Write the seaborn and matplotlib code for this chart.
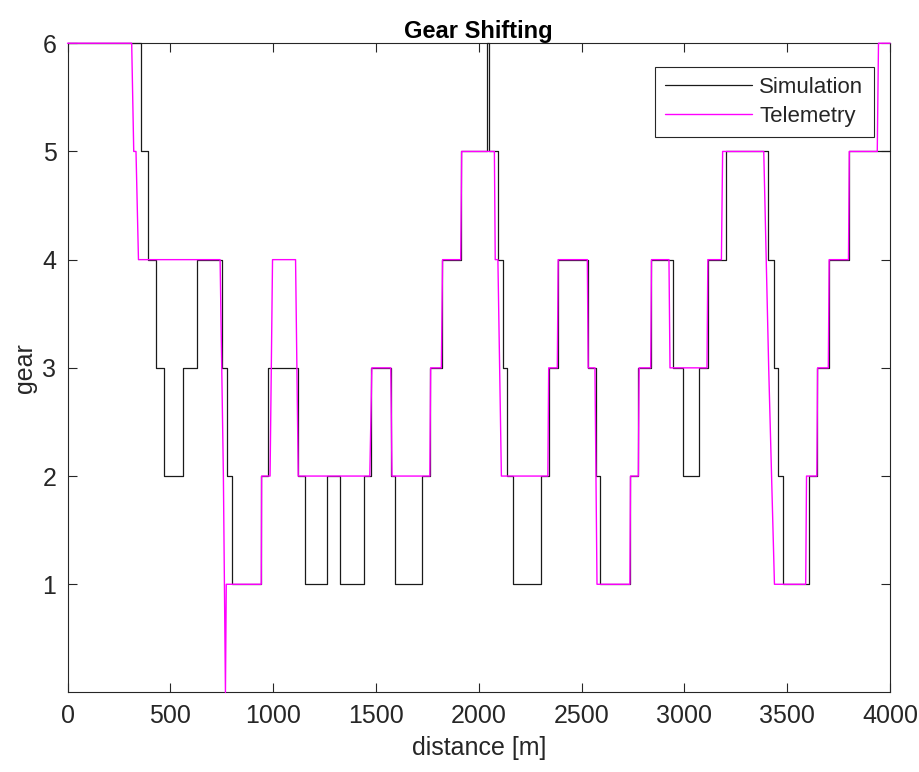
import matplotlib
matplotlib.use("Agg")
import matplotlib.pyplot as plt
import seaborn as sns
import pandas as pd

# Simulation: step changes (distance where the gear becomes the value)
sim_distance = [0, 359, 393, 429, 471, 560, 629, 753, 775, 799, 942, 974, 1123, 1157,
                1261, 1323, 1440, 1477, 1574, 1594, 1724, 1764, 1821, 1915, 2040, 2048,
                2092, 2118, 2137, 2166, 2304, 2340, 2385, 2531, 2570, 2591, 2737, 2775,
                2839, 2945, 2994, 3073, 3113, 3204, 3407, 3434, 3456, 3482, 3608, 3646,
                3702, 3800, 4000]
sim_gear = [6, 5, 4, 3, 2, 3, 4, 3, 2, 1, 2, 3, 2, 1,
            2, 1, 2, 3, 2, 1, 2, 3, 4, 5, 6, 5,
            4, 3, 2, 1, 2, 3, 4, 3, 2, 1, 2, 3,
            4, 3, 2, 3, 4, 5, 4, 3, 2, 1, 2, 3,
            4, 5, 5]

# Telemetry: sampled gear trace
tel_distance = [0, 312, 322, 333, 345, 742, 750, 758, 768, 772, 942, 944, 985, 997,
                1109, 1122, 1470, 1480, 1572, 1578, 1762, 1766, 1818, 1824, 1912, 1917,
                2076, 2080, 2093, 2110, 2336, 2340, 2382, 2386, 2528, 2532, 2565, 2575,
                2735, 2738, 2776, 2780, 2836, 2840, 2925, 2930, 3110, 3114, 3180, 3186,
                3386, 3398, 3410, 3438, 3590, 3594, 3644, 3648, 3700, 3704, 3798, 3802,
                3938, 3944, 4000]
tel_gear = [6, 6, 5, 5, 4, 4, 3, 2, 0, 1, 1, 2, 2, 4,
            4, 2, 2, 3, 3, 2, 2, 3, 3, 4, 4, 5,
            5, 4, 4, 2, 2, 3, 3, 4, 4, 3, 3, 1,
            1, 2, 2, 3, 3, 4, 4, 3, 3, 4, 4, 5,
            5, 4, 3, 1, 1, 2, 2, 3, 3, 4, 4, 5,
            5, 6, 6]

x_ticks = [0, 500, 1000, 1500, 2000, 2500, 3000, 3500, 4000]
y_ticks = [1, 2, 3, 4, 5, 6]

sns.set_theme(style="white")
plt.rcParams["font.family"] = ["Liberation Sans", "DejaVu Sans"]
plt.rcParams["text.color"] = "#262626"
plt.rcParams["axes.labelcolor"] = "#262626"
plt.rcParams["xtick.color"] = "#262626"
plt.rcParams["ytick.color"] = "#262626"

sim_df = pd.DataFrame({"distance": sim_distance, "gear": sim_gear})
tel_df = pd.DataFrame({"distance": tel_distance, "gear": tel_gear})

fig = plt.figure(figsize=(9.2, 7.72), dpi=100)
ax = fig.add_axes([0.0734, 0.103, 0.894, 0.841])

sns.lineplot(data=sim_df, x="distance", y="gear", ax=ax, estimator=None, sort=False,
             color="#1a1a1a", linewidth=0.9, drawstyle="steps-post", label="Simulation",
             clip_on=False, zorder=3)
sns.lineplot(data=tel_df, x="distance", y="gear", ax=ax, estimator=None, sort=False,
             color="#ff00ff", linewidth=1.0, label="Telemetry", clip_on=False, zorder=4)

ax.set_xlim(0, 4000)
ax.set_ylim(0, 6)
ax.set_xticks(x_ticks)
ax.set_yticks(y_ticks)
ax.tick_params(direction="in", length=6.5, width=0.8, labelsize=18,
               top=True, right=True, bottom=True, left=True, pad=8)
for s in ax.spines.values():
    s.set_color("#262626")
    s.set_linewidth(0.8)

ax.set_xlabel("distance [m]", fontsize=18, labelpad=6)
ax.set_ylabel("gear", fontsize=18)
ax.set_title("Gear Shifting", fontsize=17, fontweight="bold", color="black", pad=4)

leg = ax.legend(loc="upper right", bbox_to_anchor=(0.98, 0.963), fontsize=16,
                frameon=True, fancybox=False, edgecolor="#262626", framealpha=1,
                handlelength=3.9, borderpad=0.45, labelspacing=0.35, handletextpad=0.35,
                borderaxespad=0)
leg.get_frame().set_linewidth(0.8)

fig.savefig("out.png", dpi=100)
